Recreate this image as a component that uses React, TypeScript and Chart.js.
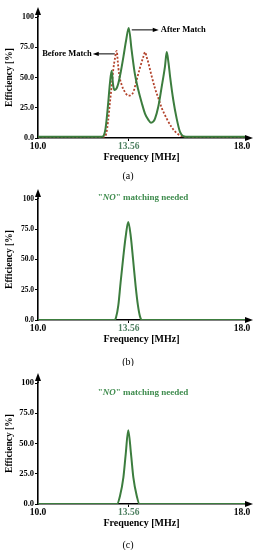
import React, { useEffect, useRef } from 'react';
import { Chart, registerables } from 'chart.js';
Chart.register(...registerables);

// ---- data ----
const X_TICKS = [10, 13.56, 18];
const Y_TICKS = [0, 25, 50, 75, 100];

// (a) after matching (green solid)
const FREQ_A_AFTER = [10, 12.5, 12.56, 12.65, 12.75, 12.82, 12.89, 12.94, 12.99, 13.08, 13.15, 13.25, 13.35, 13.45, 13.56, 13.67, 13.8, 13.93, 14.07, 14.2, 14.33, 14.43, 14.52, 14.59, 14.72, 14.85, 14.98, 15.05, 15.12, 15.18, 15.31, 15.44, 15.57, 15.7, 15.8, 18.12];
const EFF_A_AFTER = [1, 1, 1.5, 8, 28, 45, 55.6, 45, 39.7, 41, 45, 55, 67, 80, 91, 73, 53, 40, 29, 20, 15, 12.7, 13.5, 16, 26, 42, 59, 71, 62, 51, 31, 16, 5, 1.5, 1, 1];
// (a) before matching (red dotted)
const FREQ_A_BEFORE = [10, 12.6, 12.68, 12.75, 12.82, 12.9, 12.95, 13.02, 13.09, 13.13, 13.18, 13.28, 13.41, 13.54, 13.64, 13.74, 13.87, 14.0, 14.13, 14.2, 14.26, 14.33, 14.46, 14.59, 14.72, 14.85, 15.05, 15.24, 15.44, 15.64, 15.75, 18.12];
const EFF_A_BEFORE = [1, 1, 4, 14, 29, 45, 56, 66, 72, 63, 53, 44, 38, 35, 35.5, 38, 48, 58, 67, 71, 67, 62, 51, 41, 33, 25, 16, 9, 4, 1.5, 1, 1];
// (b)
const FREQ_B = [10, 13.0, 13.06, 13.15, 13.24, 13.35, 13.44, 13.54, 13.64, 13.73, 13.83, 13.92, 14.0, 14.08, 18.12];
const EFF_B = [0, 0, 2, 12, 31, 53, 69, 81, 69, 50, 28, 12, 3, 0, 0];
// (c)
const FREQ_C = [10, 13.1, 13.22, 13.35, 13.44, 13.54, 13.65, 13.74, 13.87, 13.98, 18.12];
const EFF_C = [0, 0, 7, 22, 41, 61, 41, 22, 7, 0, 0];

const GREEN = '#3c7d3e';
const RED = '#b3432c';
const TEXT_GREEN = '#3f8c4e';
const SERIF = '"Liberation Serif", "Times New Roman", serif';

const pts = (xs: number[], ys: number[]) => xs.map((x, i) => ({ x, y: ys[i] }));

type PanelProps = {
  top: number;
  datasets: any[];
  caption: string;
  yTickSize: number;
  noteY?: number;
  annotateA?: boolean;
  captionY: number;
};

const H = 184;
const AREA_BOTTOM = 138;
const XH = 26;

function drawArrowHead(ctx: CanvasRenderingContext2D, tx: number, ty: number, dir: 'up' | 'right' | 'left', len: number, half: number) {
  ctx.beginPath();
  if (dir === 'up') {
    ctx.moveTo(tx, ty);
    ctx.lineTo(tx - half, ty + len);
    ctx.lineTo(tx + half, ty + len);
  } else if (dir === 'right') {
    ctx.moveTo(tx, ty);
    ctx.lineTo(tx - len, ty - half);
    ctx.lineTo(tx - len, ty + half);
  } else {
    ctx.moveTo(tx, ty);
    ctx.lineTo(tx + len, ty - half);
    ctx.lineTo(tx + len, ty + half);
  }
  ctx.closePath();
  ctx.fill();
}

function Panel({ top, datasets, caption, yTickSize, noteY, annotateA, captionY }: PanelProps) {
  const ref = useRef<HTMLCanvasElement | null>(null);
  useEffect(() => {
    if (!ref.current) return;
    const deco = {
      id: 'deco',
      afterDraw(chart: any) {
        const { ctx, chartArea: a, scales } = chart;
        const xs = scales.x;
        const ys = scales.y;
        ctx.save();
        ctx.fillStyle = '#000';
        ctx.strokeStyle = '#000';
        ctx.lineWidth = 1.6;
        // y axis arrow
        ctx.beginPath();
        ctx.moveTo(a.left, a.top);
        ctx.lineTo(a.left, a.top - 4);
        ctx.stroke();
        drawArrowHead(ctx, a.left, a.top - 10, 'up', 8, 3);
        // x axis arrow
        ctx.beginPath();
        ctx.moveTo(a.right, a.bottom);
        ctx.lineTo(a.right + 2, a.bottom);
        ctx.stroke();
        drawArrowHead(ctx, a.right + 8, a.bottom, 'right', 8, 3);

        if (annotateA) {
          ctx.lineWidth = 1;
          ctx.font = `bold 8.5px ${SERIF}`;
          ctx.textBaseline = 'middle';
          // After Match
          const px = xs.getPixelForValue(13.56);
          const py = ys.getPixelForValue(91) + 2;
          ctx.beginPath();
          ctx.moveTo(px + 3, py);
          ctx.lineTo(px + 25, py);
          ctx.stroke();
          drawArrowHead(ctx, px + 30, py, 'right', 6, 2.2);
          ctx.textAlign = 'left';
          ctx.fillText('After Match', px + 32, py);
          // Before Match
          const bx = xs.getPixelForValue(13.09);
          const by = ys.getPixelForValue(72) + 3;
          ctx.beginPath();
          ctx.moveTo(bx - 2, by);
          ctx.lineTo(bx - 19, by);
          ctx.stroke();
          drawArrowHead(ctx, bx - 24, by, 'left', 6, 2.2);
          ctx.textAlign = 'right';
          ctx.fillText('Before Match', bx - 25, by);
        }
        if (noteY !== undefined) {
          ctx.textBaseline = 'middle';
          ctx.textAlign = 'left';
          ctx.fillStyle = TEXT_GREEN;
          const parts: [string, string][] = [
            ['"', `bold 9px ${SERIF}`],
            ['NO', `italic bold 9px ${SERIF}`],
            ['" matching needed', `bold 9px ${SERIF}`],
          ];
          let total = 0;
          for (const [t, f] of parts) { ctx.font = f; total += ctx.measureText(t).width; }
          let cx = 143 - total / 2;
          for (const [t, f] of parts) {
            ctx.font = f;
            ctx.fillText(t, cx, noteY);
            cx += ctx.measureText(t).width;
          }
        }
        // caption
        ctx.fillStyle = '#000';
        ctx.font = `10px ${SERIF}`;
        ctx.textAlign = 'center';
        ctx.textBaseline = 'middle';
        ctx.fillText(caption, 128, captionY);
        ctx.restore();
      },
    };
    const chart = new Chart(ref.current, {
      type: 'line',
      data: { datasets },
      options: {
        animation: false,
        responsive: false,
        layout: { padding: { top: 17, left: 0, right: 15, bottom: H - AREA_BOTTOM - XH } },
        plugins: { legend: { display: false }, tooltip: { enabled: false } },
        elements: { point: { radius: 0 } },
        scales: {
          x: {
            type: 'linear',
            min: 10,
            max: 18.12,
            afterBuildTicks: (s: any) => { s.ticks = X_TICKS.map((v) => ({ value: v })); },
            afterFit: (s: any) => { s.height = XH; },
            border: { color: '#000', width: 1.6 },
            grid: {
              drawOnChartArea: false,
              drawTicks: true,
              tickLength: 3,
              tickColor: (c: any) => (c.index === 1 ? '#000' : 'rgba(0,0,0,0)'),
              color: 'rgba(0,0,0,0)',
            },
            ticks: {
              autoSkip: false,
              maxRotation: 0,
              padding: 0,
              color: (c: any) => (c.index === 1 ? '#4f8062' : '#000'),
              font: { family: SERIF, size: 9.5, weight: 'bold' },
              callback: (v: any) => (Number(v) === 13.56 ? '13.56' : Number(v).toFixed(1)),
            },
            title: {
              display: true,
              text: 'Frequency [MHz]',
              color: '#000',
              font: { family: SERIF, size: 10, weight: 'bold' },
              padding: { top: 0, bottom: 1 },
            },
          },
          y: {
            min: 0,
            max: 100,
            afterBuildTicks: (s: any) => { s.ticks = Y_TICKS.map((v) => ({ value: v })); },
            afterFit: (s: any) => { s.width = 38; },
            border: { color: '#000', width: 1.6 },
            grid: { drawOnChartArea: false, drawTicks: true, tickLength: 3, color: '#000', tickWidth: 1 },
            ticks: {
              padding: 1,
              color: '#000',
              font: { family: SERIF, size: yTickSize, weight: 'bold' },
              callback: (v: any) => (Number(v) === 100 ? '100' : Number(v).toFixed(1)),
            },
            title: {
              display: true,
              text: 'Efficiency [%]',
              color: '#000',
              font: { family: SERIF, size: 9.5, weight: 'bold' },
              padding: { top: 4, bottom: 0 },
            },
          },
        },
      },
      plugins: [deco],
    } as any);
    return () => chart.destroy();
  }, []);
  return (
    <canvas
      ref={ref}
      width={260}
      height={H}
      style={{ position: 'absolute', left: 0, top, width: 260, height: H }}
    />
  );
}

export default function App() {
  const dsA = [
    {
      data: pts(FREQ_A_AFTER, EFF_A_AFTER),
      borderColor: GREEN,
      borderWidth: 2,
      cubicInterpolationMode: 'monotone',
      fill: false,
    },
    {
      data: pts(FREQ_A_BEFORE, EFF_A_BEFORE),
      borderColor: RED,
      borderWidth: 1.8,
      borderDash: [2, 1.8],
      cubicInterpolationMode: 'monotone',
      fill: false,
    },
  ];
  const dsB = [
    { data: pts(FREQ_B, EFF_B), borderColor: GREEN, borderWidth: 2, cubicInterpolationMode: 'monotone', fill: false },
  ];
  const dsC = [
    { data: pts(FREQ_C, EFF_C), borderColor: GREEN, borderWidth: 2, cubicInterpolationMode: 'monotone', fill: false },
  ];
  return (
    <div style={{ position: 'fixed', left: 0, top: 0, width: 260, height: 550, background: '#fff' }}>
      <Panel top={0} datasets={dsA} caption="(a)" yTickSize={8} annotateA captionY={176} />
      <Panel top={182} datasets={dsB} caption="(b)" yTickSize={7.5} noteY={16} captionY={180} />
      <Panel top={366} datasets={dsC} caption="(c)" yTickSize={8.5} noteY={27} captionY={179} />
    </div>
  );
}
